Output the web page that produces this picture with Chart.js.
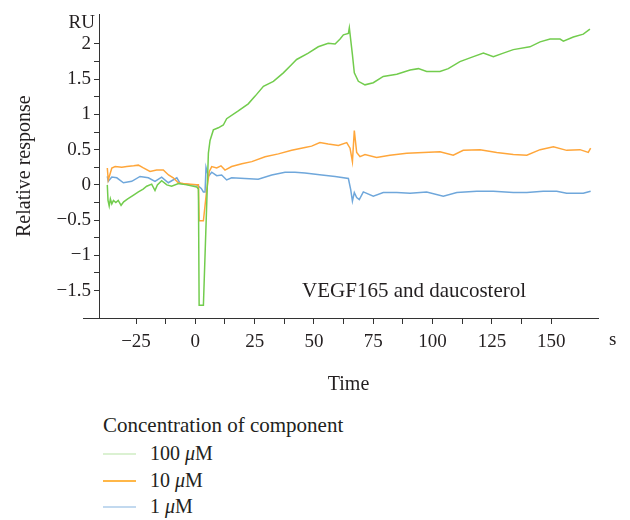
<!DOCTYPE html>
<html lang="en">
<head>
    <meta charset="UTF-8">
    <title>VEGF165 and daucosterol</title>
    <script src="https://cdn.jsdelivr.net/npm/chart.js"></script>
    <style>
        body { margin: 0; background: #fff; }
        #wrap { position: relative; width: 630px; height: 520px; }
        #chart { position: absolute; left: 0; top: 0; }
        #legend {
            position: absolute;
            left: 103px;
            top: 413px;
            font-family: "Liberation Serif", serif;
            color: #231f20;
        }
        #legend .ttl { font-size: 21px; line-height: 24px; margin-bottom: 3px; }
        #legend .row { font-size: 20px; line-height: 26.5px; height: 26.5px; white-space: nowrap; }
        #legend .swatch {
            display: inline-block;
            width: 33px;
            height: 2px;
            vertical-align: middle;
            margin-right: 14px;
            position: relative;
            top: -1px;
        }
    </style>
</head>
<body>
<div id="wrap">
    <canvas id="chart" width="630" height="400"></canvas>
    <div id="legend"></div>
</div>

<script>
    // time (s) and response (RU)
    const t100 = [-37.1, -36.8, -36.3, -35.8, -35.2, -34.5, -33.5, -32.5, -31.3, -30.2, -28.5, -26.2, -24, -22, -20.5, -18.4, -17, -16, -14.2, -12, -10, -7.1, -3.6, 0.6, 1.3, 1.6, 3.4, 5.5, 6.2, 7.6, 9.7, 11.8, 13.2, 18.1, 22.3, 25.2, 28.7, 32.9, 37.1, 40.6, 42.7, 47.6, 51.8, 56, 58.9, 61, 62.4, 64.5, 64.9, 66.2, 67, 68.7, 71.5, 75, 79.2, 84.9, 90.5, 94, 97.5, 103.1, 106.6, 111.5, 117.2, 121.4, 125.6, 129.8, 134, 141, 145.3, 149.5, 153.7, 155.1, 159.3, 163.5, 166.3];
    const r100 = [0.0, -0.22, -0.30, -0.20, -0.27, -0.22, -0.25, -0.22, -0.29, -0.24, -0.20, -0.15, -0.10, -0.06, -0.02, 0.01, -0.08, 0.0, 0.06, 0.0, -0.02, 0.02, 0.0, -0.03, -0.06, -1.71, -1.71, 0.45, 0.63, 0.78, 0.81, 0.85, 0.94, 1.05, 1.15, 1.26, 1.40, 1.47, 1.59, 1.71, 1.78, 1.87, 1.96, 2.01, 2.00, 2.07, 2.13, 2.15, 2.23, 1.85, 1.59, 1.47, 1.42, 1.45, 1.54, 1.57, 1.63, 1.65, 1.61, 1.61, 1.65, 1.75, 1.82, 1.87, 1.82, 1.87, 1.92, 1.96, 2.03, 2.07, 2.07, 2.04, 2.10, 2.14, 2.21];

    const t10 = [-37.1, -36.7, -35.2, -33.8, -31, -28.9, -26, -24, -21.9, -19.1, -16.3, -13.5, -11.3, -9.3, -7.2, -5.1, -2, 0.6, 1.3, 1.6, 3.4, 4.8, 5.9, 6.9, 9, 10.8, 12.5, 15.3, 19.6, 23.8, 29.4, 35, 40.6, 46.2, 49, 52.5, 56, 60.3, 63.8, 65.2, 66.2, 67, 68, 69.4, 71.5, 76.4, 82, 89.1, 96.1, 103.1, 108.7, 112.9, 120, 127, 134, 139.7, 145.3, 150.9, 156.5, 162.1, 165.6, 166.6];
    const r10 = [0.24, 0.07, 0.24, 0.26, 0.25, 0.26, 0.27, 0.28, 0.24, 0.19, 0.21, 0.21, 0.14, 0.10, 0.03, 0.02, 0.01, 0.0, 0.0, -0.51, -0.51, -0.07, 0.19, 0.26, 0.24, 0.27, 0.21, 0.26, 0.30, 0.33, 0.40, 0.44, 0.49, 0.53, 0.55, 0.60, 0.58, 0.56, 0.60, 0.52, 0.33, 0.77, 0.46, 0.40, 0.43, 0.39, 0.42, 0.45, 0.46, 0.47, 0.42, 0.49, 0.50, 0.46, 0.43, 0.42, 0.50, 0.54, 0.49, 0.50, 0.46, 0.52];

    const t1 = [-37.1, -36.7, -35.2, -33.1, -30.3, -26.8, -23.3, -19.8, -17, -14.2, -11.4, -7.8, -6.4, -2.2, 0.6, 2.5, 3.4, 4.1, 4.5, 5.5, 6.9, 9, 11.1, 13.2, 15.3, 20.9, 26.5, 32.2, 37.8, 42, 46.2, 53.3, 58.9, 64.5, 65.5, 66.2, 67, 68, 69.1, 70.8, 75, 79.2, 84.9, 90.5, 97.5, 104.5, 110.2, 118.6, 125.6, 134, 139.7, 146.6, 152.3, 156.5, 163.5, 166.6];
    const r1 = [0.12, 0.05, 0.11, 0.10, 0.03, 0.05, 0.12, 0.10, 0.05, 0.11, 0.03, 0.10, 0.02, 0.0, 0.0, -0.05, -0.10, -0.10, 0.25, 0.12, 0.18, 0.13, 0.14, 0.07, 0.10, 0.09, 0.08, 0.14, 0.18, 0.18, 0.17, 0.14, 0.12, 0.09, -0.07, -0.23, -0.11, -0.18, -0.21, -0.10, -0.16, -0.11, -0.11, -0.12, -0.10, -0.16, -0.11, -0.09, -0.09, -0.11, -0.11, -0.09, -0.09, -0.12, -0.12, -0.09];

    const seriesLabels = ['100 μM', '10 μM', '1 μM'];
    const lineColors = ['#72cc4d', '#ffa63a', '#6fa7db'];
    const legendColors = ['#dbf1d2', '#ffb748', '#c2d9ef'];

    const xTickStep = 12.5;
    const yTickStep = 0.25;

    const FONT = '"Liberation Serif", "Times New Roman", serif';
    const INK = '#231f20';

    function pts(t, r) {
        return t.map((x, i) => ({ x: x, y: r[i] }));
    }

    function onStep(v, step) {
        return Math.abs(v / step - Math.round(v / step)) < 1e-6;
    }

    // extra texts: unit labels and the panel caption
    const extras = {
        id: 'extras',
        afterDraw(chart) {
            const c = chart.ctx;
            const a = chart.chartArea;
            const xs = chart.scales.x, ys = chart.scales.y;
            c.save();
            // x axis line runs a bit left of the y axis
            c.strokeStyle = '#333';
            c.lineWidth = 1;
            c.beginPath();
            c.moveTo(a.left - 16, a.bottom + 0.5);
            c.lineTo(a.left, a.bottom + 0.5);
            c.stroke();

            c.fillStyle = INK;
            c.font = '19px ' + FONT;
            c.textBaseline = 'middle';
            c.textAlign = 'right';
            c.fillText('RU', a.left - 4, a.top + 9);
            c.textAlign = 'left';
            c.fillText('s', a.right + 11, a.bottom + 22);

            c.font = '21px ' + FONT;
            c.fillText('VEGF165 and daucosterol', xs.getPixelForValue(45), ys.getPixelForValue(-1.52));
            c.restore();
        }
    };

    const ctx = document.getElementById('chart').getContext('2d');
    const chart = new Chart(ctx, {
        type: 'line',
        data: {
            datasets: [
                { label: seriesLabels[0], data: pts(t100, r100), borderColor: lineColors[0] },
                { label: seriesLabels[1], data: pts(t10, r10), borderColor: lineColors[1] },
                { label: seriesLabels[2], data: pts(t1, r1), borderColor: lineColors[2] },
            ],
        },
        options: {
            responsive: false,
            animation: false,
            layout: { padding: { left: 0, top: 10, right: 32, bottom: 0 } },
            elements: {
                line: { borderWidth: 1.5, tension: 0, fill: false },
                point: { radius: 0 },
            },
            plugins: {
                legend: { display: false },
                tooltip: { enabled: false },
            },
            scales: {
                x: {
                    type: 'linear',
                    min: -40.6,
                    max: 169.7,
                    afterFit: s => { s.height = 82; },
                    afterBuildTicks: s => { s.ticks = s.ticks.filter(t => onStep(t.value, xTickStep)); },
                    border: { display: true, color: '#333', width: 1 },
                    grid: { drawOnChartArea: false, drawTicks: true, tickLength: 6, color: '#333' },
                    ticks: {
                        stepSize: xTickStep,
                        autoSkip: false,
                        maxRotation: 0,
                        padding: 7,
                        color: INK,
                        font: { family: FONT, size: 19 },
                        callback: v => onStep(v, 25) ? String(v).replace('-', '\u2212') : '',
                    },
                    title: {
                        display: true,
                        text: 'Time',
                        color: INK,
                        font: { family: FONT, size: 20 },
                        padding: { top: 0, bottom: 3 },
                    },
                },
                y: {
                    min: -1.89,
                    max: 2.42,
                    afterFit: s => { s.width = 99; },
                    afterBuildTicks: s => { s.ticks = s.ticks.filter(t => onStep(t.value, yTickStep)); },
                    border: { display: true, color: '#333', width: 1 },
                    grid: { drawOnChartArea: false, drawTicks: true, tickLength: 5, color: '#333' },
                    ticks: {
                        stepSize: yTickStep,
                        autoSkip: false,
                        padding: 3,
                        color: INK,
                        font: { family: FONT, size: 19 },
                        callback: v => onStep(v, 0.5) ? String(Math.round(v * 100) / 100).replace('-', '\u2212') : '',
                    },
                    title: {
                        display: true,
                        text: 'Relative response',
                        color: INK,
                        font: { family: FONT, size: 20 },
                        padding: { top: 13, bottom: 0 },
                    },
                },
            },
        },
        plugins: [extras],
    });

    // legend under the chart, one entry per row
    const legend = document.getElementById('legend');
    legend.innerHTML = '<div class="ttl">Concentration of component</div>';
    chart.data.datasets.forEach((ds, i) => {
        const row = document.createElement('div');
        row.className = 'row';
        const txt = ds.label.replace('μ', '<i>μ</i>');
        row.innerHTML = `<span class="swatch" style="background:${legendColors[i]}"></span>${txt}`;
        legend.appendChild(row);
    });
</script>
</body>
</html>
